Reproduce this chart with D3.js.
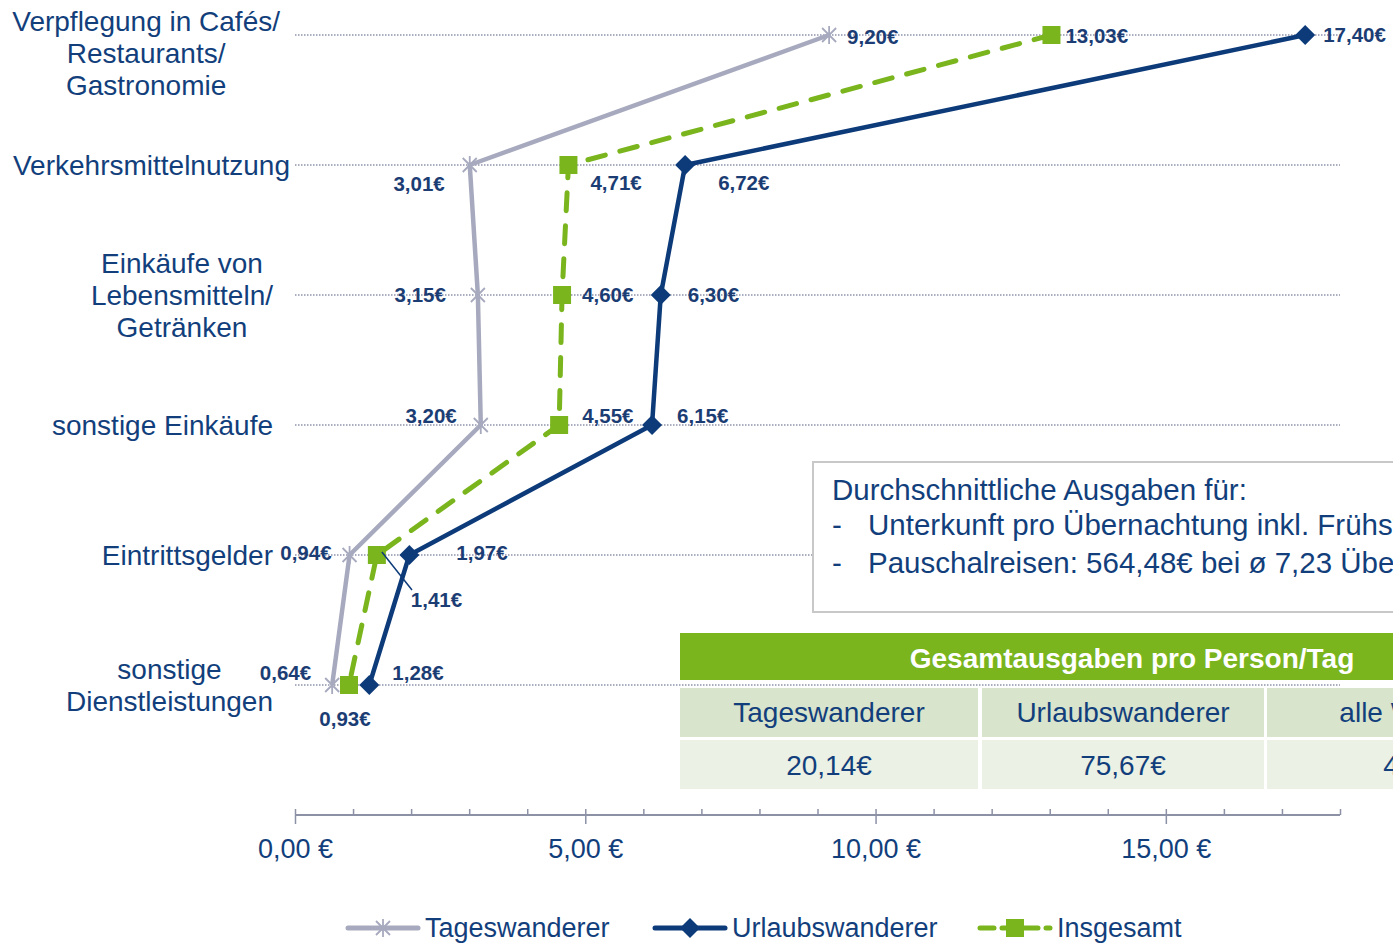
<!DOCTYPE html>
<html><head><meta charset="utf-8">
<script src="https://cdn.jsdelivr.net/npm/d3@7"></script>
<style>
html,body{margin:0;padding:0;background:#fff;overflow:hidden;}
svg{display:block;font-family:"Liberation Sans",Arial,sans-serif;}
</style></head>
<body>
<svg id="chart" width="1393" height="943"></svg>
<script>
// ---- data ----
const categories = [
  ["Verpflegung in Cafés/","Restaurants/","Gastronomie"],
  ["Verkehrsmittelnutzung"],
  ["Einkäufe von","Lebensmitteln/","Getränken"],
  ["sonstige Einkäufe"],
  ["Eintrittsgelder"],
  ["sonstige","Dienstleistungen"]
];
const seriesNames = ["Tageswanderer","Urlaubswanderer","Insgesamt"];
const tageswanderer   = [9.20, 3.01, 3.15, 3.20, 0.94, 0.64];
const urlaubswanderer = [17.40, 6.72, 6.30, 6.15, 1.97, 1.28];
const insgesamt       = [13.03, 4.71, 4.60, 4.55, 1.41, 0.93];
const xTicksMajor = [0, 5, 10, 15];
const xTicksMinor = d3.range(0, 19, 1);
const boxTitle = "Durchschnittliche Ausgaben für:";
const boxItems = ["Unterkunft pro Übernachtung inkl. Frühstück", "Pauschalreisen: 564,48€ bei ø 7,23 Übernachtungen"];
const tableTitle = "Gesamtausgaben pro Person/Tag";
const tableHeads = ["Tageswanderer","Urlaubswanderer","alle Wanderer"];
const tableValues = ["20,14€","75,67€","44,91€"];

// ---- styles / placements ----
const navy = "#0d3b7a";
const textBlue = "#123f7c";
const grayLine = "#a7aabe";
const green = "#7ab51d";
// label offsets per series per category: [dx, dy, anchor]
const labelPos = {
  Tageswanderer: [[18,2,"start"],[-25,19,"end"],[-32,0,"end"],[-24,-9,"end"],[-18,-2,"end"],[-21,-12,"end"]],
  Urlaubswanderer: [[18,0,"start"],[33,18,"start"],[27,0,"start"],[25,-9,"start"],[47,-2,"start"],[23,-12,"start"]],
  Insgesamt: [[14,1,"start"],[22,18,"start"],[20,0,"start"],[23,-9,"start"],[34,45,"start"],[-4,34,"middle"]]
};

const svg = d3.select("#chart");
const x = d3.scaleLinear().domain([0, 18]).range([295, 1340]);
const y = d3.scalePoint().domain(d3.range(categories.length)).range([35, 685]);
const fmt = v => d3.format(".2f")(v).replace(".", ",");

// gridlines
svg.append("g").selectAll("line").data(d3.range(categories.length)).join("line")
  .attr("x1", x(0)).attr("x2", x(18))
  .attr("y1", d => y(d)).attr("y2", d => y(d))
  .attr("stroke", "#8e93aa").attr("stroke-width", 1.3).attr("stroke-dasharray", "1.5,1.5");

// category labels
const catG = svg.append("g");
categories.forEach((lines, i) => {
  const n = lines.length;
  let firstY = y(i) - (n - 1) * 16;
  if (firstY < 21) firstY = 21;
  const t = catG.append("text").attr("fill", textBlue).attr("font-size", 28).attr("text-anchor", "middle");
  lines.forEach((l, j) => {
    t.append("tspan").attr("y", firstY + j * 32).attr("dy", "0.35em").text(l);
  });
  let w = 0;
  t.selectAll("tspan").each(function(){ w = Math.max(w, this.getComputedTextLength()); });
  const right = i === 0 ? 280 : (i === 1 ? 290 : 273);
  t.selectAll("tspan").attr("x", right - w / 2);
});

// axis
const axisY = 815;
const gMinor = svg.append("g").attr("transform", `translate(0,${axisY})`)
  .call(d3.axisBottom(x).tickValues(xTicksMinor).tickSize(-6).tickFormat(""));
const gMajor = svg.append("g").attr("transform", `translate(0,${axisY})`)
  .call(d3.axisBottom(x).tickValues(xTicksMajor).tickSize(9).tickPadding(15).tickFormat(d => fmt(d) + " €"));
[gMinor, gMajor].forEach(g => {
  g.select(".domain").attr("stroke", "#8c91a6").attr("stroke-width", 2).attr("d", `M${x(0)},0H${x(18)}`);
  g.selectAll(".tick line").attr("stroke", "#8c91a6").attr("stroke-width", 1.5);
});
gMajor.selectAll(".tick text").attr("fill", textBlue).attr("font-size", 27).attr("font-family", "Liberation Sans, Arial, sans-serif");

// annotation box
svg.append("rect").attr("x", 813).attr("y", 462).attr("width", 700).attr("height", 150)
  .attr("fill", "#fff").attr("stroke", "#c8c8c8").attr("stroke-width", 2);
svg.append("text").attr("x", 832).attr("y", 500).attr("fill", textBlue).attr("font-size", 29.5).text(boxTitle);
boxItems.forEach((t, i) => {
  svg.append("text").attr("x", 832).attr("y", 535 + i * 38).attr("fill", textBlue).attr("font-size", 29.5).text("-");
  svg.append("text").attr("x", 868).attr("y", 535 + i * 38).attr("fill", textBlue).attr("font-size", 29.5).text(t);
});

// table
const colX = [680, 982, 1267];
const colW = [298, 282, 318];
svg.append("rect").attr("x", 680).attr("y", 633).attr("width", 905).attr("height", 47).attr("fill", green);
svg.append("text").attr("x", 1132).attr("y", 658).attr("dy", "0.35em").attr("text-anchor", "middle")
  .attr("fill", "#fff").attr("font-weight", "bold").attr("font-size", 28).text(tableTitle);
tableHeads.forEach((h, i) => {
  svg.append("rect").attr("x", colX[i]).attr("y", 688).attr("width", colW[i]).attr("height", 49).attr("fill", "#d8e4cb");
  svg.append("text").attr("x", colX[i] + colW[i] / 2).attr("y", 712).attr("dy", "0.35em").attr("text-anchor", "middle")
    .attr("fill", textBlue).attr("font-size", 28).text(h);
  svg.append("rect").attr("x", colX[i]).attr("y", 740).attr("width", colW[i]).attr("height", 49).attr("fill", "#ebf1e4");
  svg.append("text").attr("x", colX[i] + colW[i] / 2).attr("y", 765).attr("dy", "0.35em").attr("text-anchor", "middle")
    .attr("fill", textBlue).attr("font-size", 28).text(tableValues[i]);
});

// markers
const asterisk = "M0,-9V9M-7,-7L7,7M7,-7L-7,7";
const diamond = "M0,-10L10,0L0,10L-10,0Z";
const square = "M-9,-9H9V9H-9Z";

const series = [
  {name: "Tageswanderer", values: tageswanderer, color: grayLine, width: 4.5, dash: null, marker: asterisk, fill: "none", mstroke: 1.8},
  {name: "Insgesamt", values: insgesamt, color: green, width: 5, dash: "18,15", marker: square, fill: green, mstroke: 0},
  {name: "Urlaubswanderer", values: urlaubswanderer, color: navy, width: 4.5, dash: null, marker: diamond, fill: navy, mstroke: 0}
];
const line = d3.line().x(d => x(d.v)).y(d => y(d.i));

series.forEach(s => {
  const pts = s.values.map((v, i) => ({v, i}));
  svg.append("path").datum(pts).attr("d", line).attr("fill", "none")
    .attr("stroke", s.color).attr("stroke-width", s.width)
    .attr("stroke-dasharray", s.dash).attr("stroke-linecap", s.dash ? "round" : "butt")
    .attr("stroke-linejoin", "round");
  svg.append("g").selectAll("path").data(pts).join("path")
    .attr("transform", d => `translate(${x(d.v)},${y(d.i)})`)
    .attr("d", s.marker).attr("fill", s.fill)
    .attr("stroke", s.fill === "none" ? s.color : "none").attr("stroke-width", s.mstroke);
});

// leader line for 1,41€
svg.append("line").attr("x1", x(insgesamt[4]) + 5).attr("y1", y(4) - 3).attr("x2", 412).attr("y2", 590)
  .attr("stroke", navy).attr("stroke-width", 1.5);

// data labels
["Tageswanderer","Urlaubswanderer","Insgesamt"].forEach((name, si) => {
  const vals = [tageswanderer, urlaubswanderer, insgesamt][si];
  svg.append("g").selectAll("text").data(vals).join("text")
    .attr("x", (v, i) => x(v) + labelPos[name][i][0])
    .attr("y", (v, i) => y(i) + labelPos[name][i][1])
    .attr("dy", "0.35em")
    .attr("text-anchor", (v, i) => labelPos[name][i][2])
    .attr("fill", "#1b3d74").attr("font-weight", "bold").attr("font-size", 20.5)
    .text(v => fmt(v) + "€");
});

// legend
const legendY = 928;
const legendItems = [
  {name: "Tageswanderer", x: 348, color: grayLine, marker: asterisk, fill: "none", dash: null},
  {name: "Urlaubswanderer", x: 655, color: navy, marker: diamond, fill: navy, dash: null},
  {name: "Insgesamt", x: 980, color: green, marker: square, fill: green, dash: "14,8"}
];
legendItems.forEach(l => {
  const g = svg.append("g").attr("transform", `translate(${l.x},${legendY})`);
  g.append("line").attr("x1", 0).attr("x2", 70).attr("y1", 0).attr("y2", 0)
    .attr("stroke", l.color).attr("stroke-width", 5).attr("stroke-linecap", "round")
    .attr("stroke-dasharray", l.dash);
  g.append("path").attr("transform", "translate(35,0)").attr("d", l.marker)
    .attr("fill", l.fill).attr("stroke", l.fill === "none" ? l.color : "none").attr("stroke-width", 1.8);
  g.append("text").attr("x", 77).attr("y", 0).attr("dy", "0.35em").attr("fill", textBlue).attr("font-size", 27).text(l.name);
});
</script>
</body></html>
